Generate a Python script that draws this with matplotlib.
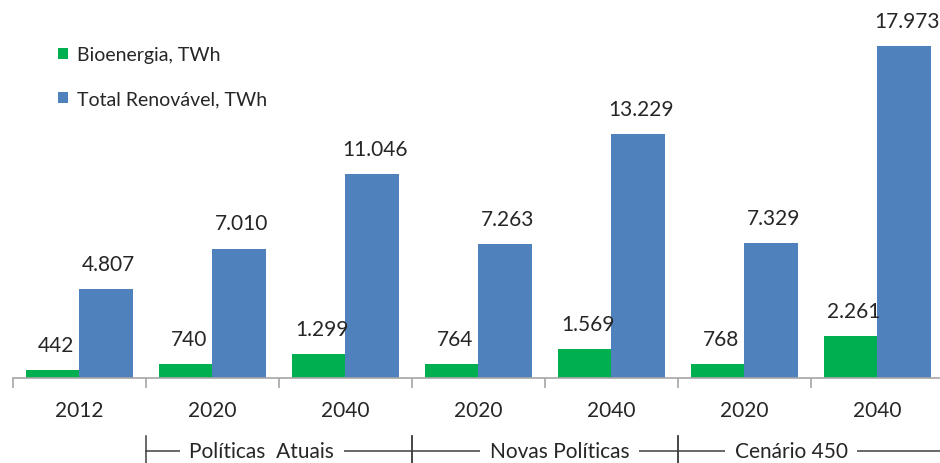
import matplotlib.pyplot as plt
import numpy as np

plt.rcParams['font.family'] = ['Lato', 'DejaVu Sans']

years = ['2012', '2020', '2040', '2020', '2040', '2020', '2040']
bioenergia = [442, 740, 1299, 764, 1569, 768, 2261]
total_renovavel = [4807, 7010, 11046, 7263, 13229, 7329, 17973]
grupos = ['Políticas  Atuais', 'Novas Políticas', 'Cenário 450']
grupo_limites = [(0.5, 2.5), (2.5, 4.5), (4.5, 6.5)]

GREEN = '#00B050'
BLUE = '#4F81BD'


def fmt(v):
    return f'{v:,}'.replace(',', '.')


fig = plt.figure(figsize=(9.4, 4.64), dpi=100)
ax = fig.add_axes([13 / 940, 85 / 464, 931 / 940, 369 / 464])

x = np.arange(len(years))
w = 0.4
b1 = ax.bar(x - w / 2, bioenergia, w, color=GREEN, label='Bioenergia, TWh')
b2 = ax.bar(x + w / 2, total_renovavel, w, color=BLUE, label='Total Renovável, TWh')

for bars, vals in [(b1, bioenergia), (b2, total_renovavel)]:
    for r, v in zip(bars, vals):
        ax.annotate(fmt(v), (r.get_x() + r.get_width() / 2, v),
                    xytext=(2, 11), textcoords='offset points',
                    ha='center', va='bottom', fontsize=15, color='#262626')

ax.set_xlim(-0.5, len(years) - 0.5)
ax.set_ylim(0, 20000)

for s in ['top', 'right', 'left']:
    ax.spines[s].set_visible(False)
ax.spines['bottom'].set_color('#A6A6A6')
ax.spines['bottom'].set_linewidth(1.2)
ax.set_yticks([])

ax.set_xticks(x)
ax.set_xticklabels(years, fontsize=15, color='#262626')
ax.tick_params(axis='x', which='major', length=0, pad=16)
ax.set_xticks(np.arange(-0.5, len(years)), minor=True)
ax.tick_params(axis='x', which='minor', length=7, width=1.2, color='#A6A6A6', direction='out')

# group brackets below the year labels
tr = ax.get_xaxis_transform()
y_line = -0.197
ax.plot([0.5, 6.5], [y_line, y_line], transform=tr, color='#404040', lw=1.1, clip_on=False)
for lo, hi in grupo_limites:
    for xv in (lo, hi):
        ax.plot([xv, xv], [-0.157, -0.24], transform=tr, color='#404040', lw=1.1, clip_on=False)
text_shift = [-0.13, 0.11, -0.15]
for nome, (lo, hi), dx in zip(grupos, grupo_limites, text_shift):
    ax.text((lo + hi) / 2 + dx, y_line, nome, transform=tr, ha='center', va='center',
            fontsize=15, color='#262626',
            bbox=dict(boxstyle='square,pad=0.45', fc='white', ec='none'))

leg = ax.legend(loc='upper left', bbox_to_anchor=(0.04, 0.92), frameon=False,
                fontsize=14, handlelength=0.5, handleheight=0.5, handletextpad=0.5,
                labelspacing=1.4, borderaxespad=0)
for t in leg.get_texts():
    t.set_color('#262626')

fig.savefig('out.png', dpi=100)
